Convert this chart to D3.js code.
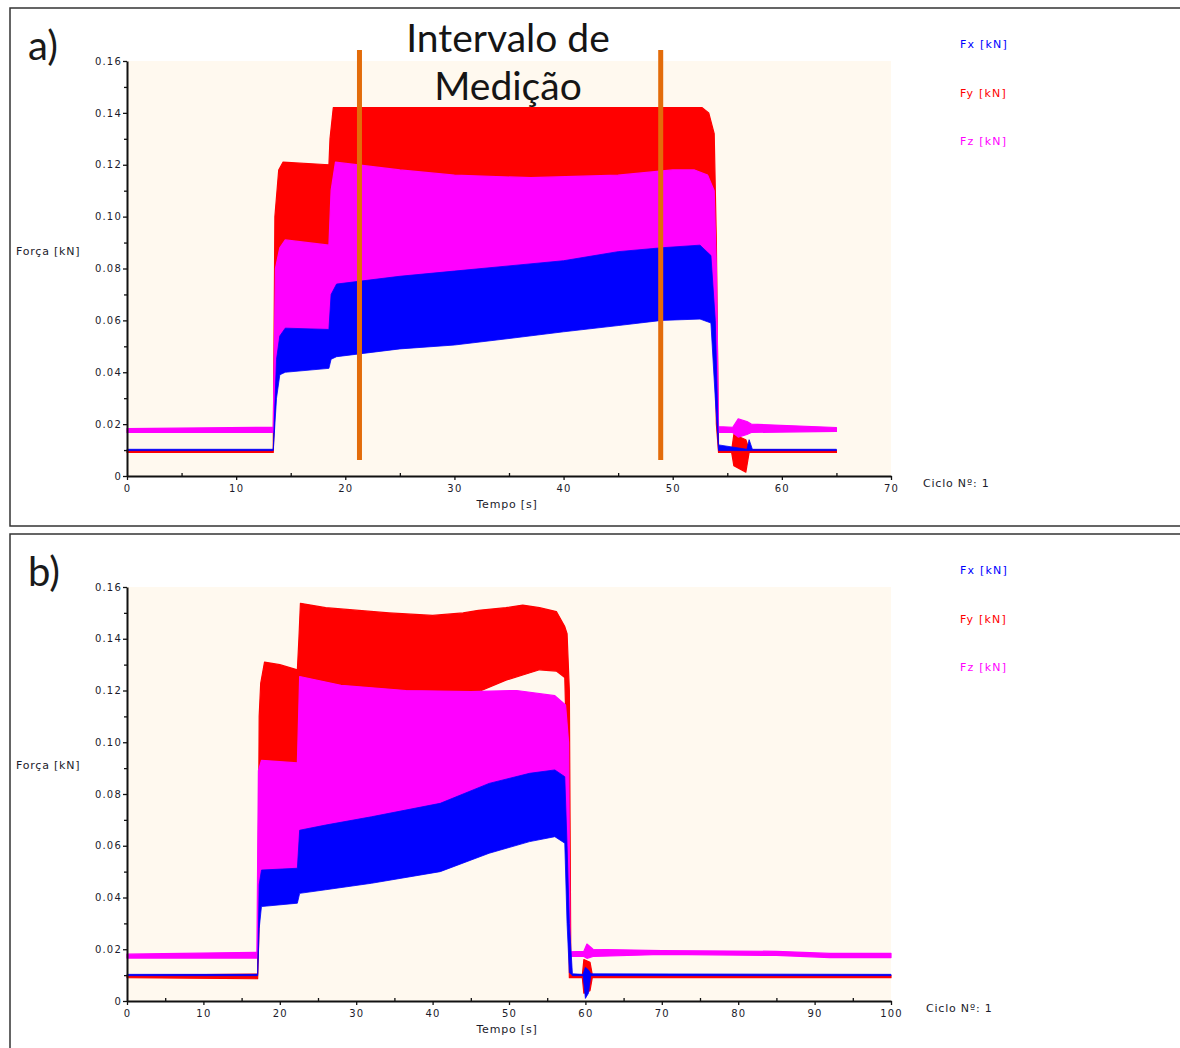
<!DOCTYPE html>
<html>
<head>
<meta charset="utf-8">
<script src="https://cdn.jsdelivr.net/npm/d3@7"></script>
<style>
  body { margin: 0; background: #fff; }
  svg text { font-family: "DejaVu Sans", Verdana, sans-serif; }
</style>
</head>
<body>
<svg id="chart" width="1180" height="1048"></svg>
<script>
// Each series is an envelope of the oscillating signal: [time s, min kN, max kN]
const fxA = [
  [0, 0.0098, 0.0103], [13.4, 0.0098, 0.0103], [13.7, 0.030, 0.045], [14.0, 0.039, 0.054],
  [14.5, 0.040, 0.057], [18.5, 0.0415, 0.0565], [18.7, 0.045, 0.070], [19.2, 0.046, 0.074],
  [25, 0.049, 0.077], [30, 0.0505, 0.079], [35, 0.053, 0.081], [40, 0.0556, 0.083],
  [45, 0.058, 0.0865], [49, 0.060, 0.088], [52.5, 0.0605, 0.089], [53.5, 0.059, 0.085],
  [53.9, 0.030, 0.060], [54.2, 0.0098, 0.012], [56.8, 0.0098, 0.0103], [57.0, 0.0098, 0.014],
  [57.3, 0.0098, 0.0103], [65, 0.0098, 0.0103]
];
const fyA = [
  [0, 0.0091, 0.0099], [13.4, 0.0091, 0.0099], [13.55, 0.030, 0.100], [13.9, 0.050, 0.118],
  [14.3, 0.052, 0.121], [18.5, 0.053, 0.120], [18.6, 0.060, 0.130], [18.9, 0.062, 0.142],
  [30, 0.065, 0.142], [40, 0.070, 0.142], [52.7, 0.075, 0.142], [53.3, 0.075, 0.140],
  [53.8, 0.072, 0.132], [54.0, 0.020, 0.090], [54.2, 0.0091, 0.0099], [55.4, 0.0091, 0.0099],
  [55.6, 0.004, 0.016], [56.7, 0.0015, 0.014], [57.0, 0.0091, 0.0102], [65, 0.0091, 0.0099]
];
const fzA = [
  [0, 0.0168, 0.0183], [13.4, 0.0168, 0.0188], [13.6, 0.030, 0.080], [14.0, 0.045, 0.088],
  [14.5, 0.047, 0.091], [18.5, 0.048, 0.089], [18.7, 0.052, 0.110], [19.1, 0.053, 0.121],
  [25, 0.056, 0.118], [30, 0.058, 0.116], [37, 0.061, 0.115], [45, 0.066, 0.116],
  [50, 0.068, 0.118], [52, 0.068, 0.118], [53.2, 0.068, 0.116], [53.8, 0.060, 0.110],
  [54.0, 0.025, 0.080], [54.2, 0.0168, 0.019], [55.5, 0.0168, 0.0188], [56.0, 0.015, 0.022],
  [56.8, 0.016, 0.021], [57.2, 0.0168, 0.020], [65, 0.0172, 0.0187]
];

const fxB = [
  [0, 0.0098, 0.0103], [17.1, 0.0098, 0.0103], [17.3, 0.028, 0.045], [17.6, 0.0365, 0.0506],
  [22.3, 0.0378, 0.0513], [22.6, 0.0416, 0.066], [26, 0.043, 0.068], [32, 0.0455, 0.0712],
  [41, 0.050, 0.0764], [47.4, 0.0571, 0.0841], [52.7, 0.0616, 0.088], [56.0, 0.0635, 0.0893],
  [57.3, 0.061, 0.0867], [57.6, 0.030, 0.060], [57.9, 0.011, 0.030], [58.3, 0.0098, 0.0105],
  [59.7, 0.0098, 0.0103], [60.0, 0.001, 0.013], [60.4, 0.003, 0.012], [60.7, 0.0098, 0.0105],
  [100, 0.0098, 0.0103]
];
const fyB = [
  [0, 0.0090, 0.0099], [17.1, 0.0086, 0.0104], [17.3, 0.030, 0.110], [17.5, 0.055, 0.1228],
  [18.0, 0.058, 0.131], [20, 0.058, 0.130], [22.3, 0.058, 0.128], [22.5, 0.080, 0.140],
  [22.7, 0.100, 0.1537], [26, 0.100, 0.152], [34.3, 0.100, 0.150], [40, 0.105, 0.149],
  [44, 0.117, 0.150], [46, 0.1195, 0.151], [49.6, 0.124, 0.152], [51.8, 0.126, 0.153],
  [54, 0.128, 0.152], [56.2, 0.1275, 0.1505], [57.3, 0.125, 0.1447], [57.6, 0.090, 0.142],
  [57.9, 0.009, 0.120], [58.1, 0.0090, 0.0099], [59.6, 0.0090, 0.0099], [59.8, 0.003, 0.016],
  [60.6, 0.004, 0.015], [60.9, 0.0090, 0.0102], [100, 0.0090, 0.0099]
];
const fzB = [
  [0, 0.0166, 0.0181], [17.0, 0.0166, 0.0188], [17.2, 0.030, 0.089], [17.6, 0.045, 0.093],
  [22.3, 0.046, 0.092], [22.6, 0.050, 0.1254], [28, 0.052, 0.122], [36.5, 0.056, 0.120],
  [45, 0.064, 0.1196], [51, 0.070, 0.120], [56, 0.072, 0.118], [57.4, 0.070, 0.1144],
  [57.8, 0.040, 0.100], [58.0, 0.0172, 0.019], [59.8, 0.0172, 0.0192], [60.2, 0.0165, 0.022],
  [61, 0.0172, 0.020], [70, 0.0180, 0.0195], [85, 0.0176, 0.0192], [92, 0.0168, 0.0184],
  [100, 0.0168, 0.0184]
];

const seriesNames = ['Fx [kN]', 'Fy [kN]', 'Fz [kN]'];
const seriesColors = ['#0000ff', '#ff0000', '#ff00ff'];
const yTicks = [0, 0.02, 0.04, 0.06, 0.08, 0.10, 0.12, 0.14, 0.16];
const xTicksA = [0, 10, 20, 30, 40, 50, 60, 70];
const xTicksB = [0, 10, 20, 30, 40, 50, 60, 70, 80, 90, 100];
const markerTimes = [21.3, 48.9]; // orange "Intervalo de Medição" lines, panel a

const svg = d3.select('#chart');
const textColor = '#1b1b2b';

function yFormat(d) {
  return d === 0 ? '0' : d.toFixed(2);
}

function smallText(sel, size, spacing) {
  return sel.style('font-size', size + 'px').style('letter-spacing', spacing + 'px');
}

function drawPanel(opt) {
  const g = svg.append('g');

  // panel frame
  g.append('rect')
    .attr('x', 10).attr('y', opt.boxTop)
    .attr('width', 1180).attr('height', opt.boxHeight)
    .attr('fill', 'none').attr('stroke', '#333').attr('stroke-width', 1.5);

  const x = d3.scaleLinear().domain([0, opt.xMax]).range([127, 891]);
  const y = d3.scaleLinear().domain([0, 0.16]).range([opt.plotBottom, opt.plotTop]);

  g.append('rect')
    .attr('x', x(0)).attr('y', y(0.16))
    .attr('width', x(opt.xMax) - x(0)).attr('height', y(0) - y(0.16))
    .attr('fill', '#fff9ef');

  const area = d3.area()
    .x(d => x(d[0]))
    .y0(d => y(d[1]))
    .y1(d => y(d[2]));

  // red first, then magenta, blue on top
  [[opt.fy, seriesColors[1], 1.2], [opt.fz, seriesColors[2], 1.2], [opt.fx, seriesColors[0], 0.8]]
    .forEach(([data, color, sw]) => {
      g.append('path')
        .datum(data)
        .attr('d', area)
        .attr('fill', color)
        .attr('stroke', color)
        .attr('stroke-width', sw)
        .attr('stroke-linejoin', 'round');
    });

  // y axis with minor ticks
  const yAxis = g.append('g')
    .attr('transform', `translate(${x(0)},0)`)
    .call(d3.axisLeft(y).tickValues(yTicks).tickFormat(yFormat).tickSize(4).tickSizeOuter(0));
  g.append('g')
    .attr('transform', `translate(${x(0)},0)`)
    .call(d3.axisLeft(y).tickValues(d3.range(0.01, 0.16, 0.02)).tickFormat('').tickSize(3).tickSizeOuter(0))
    .select('.domain').remove();

  // x axis with minor ticks
  const xAxis = g.append('g')
    .attr('transform', `translate(0,${y(0)})`)
    .call(d3.axisBottom(x).tickValues(opt.xTicks).tickSize(4).tickSizeOuter(0));
  g.append('g')
    .attr('transform', `translate(0,${y(0)})`)
    .call(d3.axisTop(x).tickValues(d3.range(5, opt.xMax, 10)).tickFormat('').tickSize(3).tickSizeOuter(0))
    .select('.domain').remove();

  [yAxis, xAxis].forEach(ax => {
    ax.select('.domain').attr('stroke', '#111').attr('stroke-width', 2);
    smallText(ax.selectAll('text'), 10, 1.2)
      .style('font-family', '"DejaVu Sans", Verdana, sans-serif')
      .attr('fill', textColor);
  });
  g.selectAll('.tick line').attr('stroke', '#111').attr('stroke-width', 1.3);
  xAxis.selectAll('text').attr('dy', '0.9em');
  yAxis.selectAll('text').attr('x', -5);

  smallText(g.append('text'), 11, 0.8)
    .attr('x', 16).attr('y', opt.forcaY)
    .attr('fill', textColor)
    .text('Força [kN]');

  smallText(g.append('text'), 11, 0.8)
    .attr('x', 507).attr('y', y(0) + 32)
    .attr('text-anchor', 'middle')
    .attr('fill', textColor)
    .text('Tempo [s]');

  smallText(g.append('text'), 11, 0.8)
    .attr('x', opt.cicloX).attr('y', y(0) + 11)
    .attr('fill', textColor)
    .text('Ciclo Nº: 1');

  // legend
  seriesNames.forEach((name, i) => {
    smallText(g.append('text'), 11, 1.2)
      .attr('x', 960).attr('y', opt.boxTop + 40 + i * 48.5)
      .attr('fill', seriesColors[i])
      .text(name);
  });

  g.append('text')
    .attr('x', 28).attr('y', opt.boxTop + 52)
    .style('font-family', 'Lato, "Open Sans", sans-serif')
    .style('font-size', '40px').attr('fill', '#1a1a1a')
    .text(opt.label);

  return { x, y, g };
}

const panelA = drawPanel({
  boxTop: 8, boxHeight: 518, plotTop: 61, plotBottom: 476, xMax: 70,
  xTicks: xTicksA, fx: fxA, fy: fyA, fz: fzA, label: 'a)', forcaY: 255, cicloX: 923
});
drawPanel({
  boxTop: 534, boxHeight: 530, plotTop: 587, plotBottom: 1001, xMax: 100,
  xTicks: xTicksB, fx: fxB, fy: fyB, fz: fzB, label: 'b)', forcaY: 769, cicloX: 926
});

// measurement interval markers and title on panel a
panelA.g.selectAll('.marker')
  .data(markerTimes)
  .enter()
  .append('line')
  .attr('x1', d => panelA.x(d)).attr('x2', d => panelA.x(d))
  .attr('y1', 50).attr('y2', 460)
  .attr('stroke', '#e36c0a')
  .attr('stroke-width', 5);

['Intervalo de', 'Medição'].forEach((t, i) => {
  panelA.g.append('text')
    .attr('x', 508).attr('y', 52 + i * 48)
    .attr('text-anchor', 'middle')
    .style('font-family', 'Lato, "Open Sans", sans-serif')
    .style('font-size', '39px').attr('fill', '#151515')
    .text(t);
});
</script>
</body>
</html>
